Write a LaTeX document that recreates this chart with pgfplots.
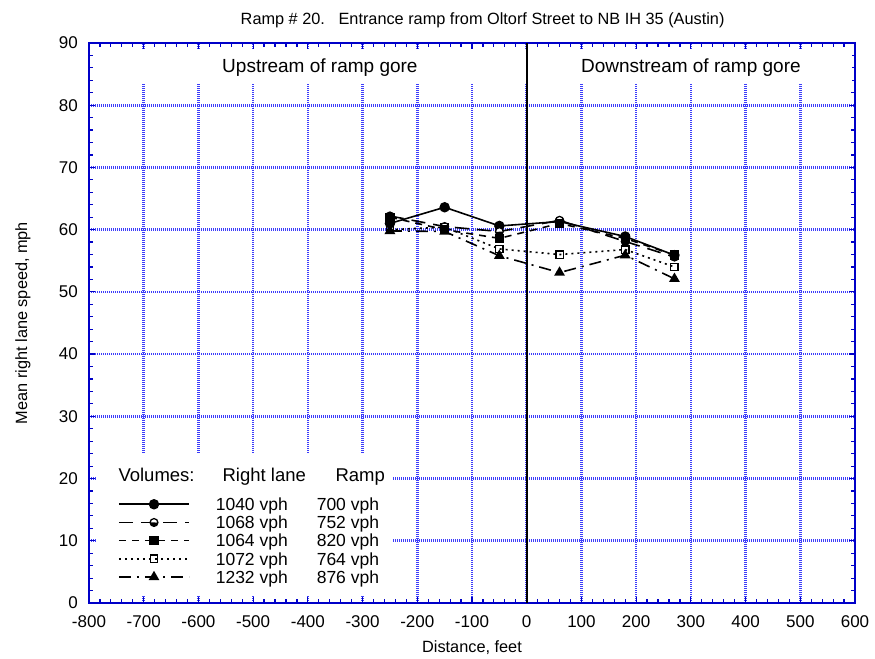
\documentclass[border=0pt]{standalone}
\usepackage{fontspec}
\setmainfont{Liberation Sans}
\usepackage{pgfplots}
\pgfplotsset{compat=1.18}
\usetikzlibrary{plotmarks}
\definecolor{axblue}{RGB}{0,0,200}
\definecolor{gridblue}{RGB}{60,60,250}
\newcommand{\fs}{\fontsize{16.3}{19}\selectfont}
\newcommand{\ft}{\fontsize{17}{20}\selectfont}
\newcommand{\fl}{\fontsize{17.5}{20}\selectfont}
\begin{document}
\begin{tikzpicture}
\begin{axis}[
  scale only axis, width=766pt, height=560pt,
  xmin=-800, xmax=600, ymin=0, ymax=90,
  xtick distance=100, ytick distance=10,
  minor x tick num=4, minor y tick num=4,
  tick align=inside, tick pos=both,
  major tick length=6pt, minor tick length=4pt,
  every tick/.style={axblue, line width=1.2pt},
  axis line style={axblue, line width=2.4pt},
  grid=major,
  major grid style={gridblue, line width=2.6pt, dash pattern=on 1.3pt off 0.7pt},
  /pgf/number format/assume math mode=true,
  /pgf/number format/1000 sep={},
  ticklabel style={font=\ft},
  xticklabel style={anchor=center, yshift=-19pt},
  yticklabel style={anchor=east, inner sep=0pt, xshift=-11pt},
  xlabel={Distance, feet},
  ylabel={Mean right lane speed, mph},
  every axis x label/.style={at={(axis description cs:0.5,0)}, anchor=center, yshift=-45pt, font=\fs},
  every axis y label/.style={at={(axis description cs:0,0.5)}, anchor=center, rotate=90, yshift=66pt, font=\fs},
  clip=false,
  legend image code/.code={\draw[mark repeat=2, mark phase=2, #1] plot coordinates {(0pt,0pt) (35pt,0pt) (70pt,0pt)};},
  legend style={at={(axis cs:-747,16.9)}, anchor=north west, draw=none, fill=none,
    inner sep=0pt, row sep=5.7pt, column sep=26pt, font=\fl,
    nodes={inner sep=0pt, text height=12.5pt, text depth=0pt}},
  legend cell align=left,
]
% white masks over the grid
\fill[white] (axis cs:-786,83.6) rectangle (axis cs:594,89.0);
\fill[white] (axis cs:-786,1.2) rectangle (axis cs:-244,24.1);
\draw[black, line width=1.6pt] (axis cs:0,0) -- (axis cs:0,90);

\addplot[black, line width=1.6pt, solid, mark=*, mark size=4.4pt, mark options={solid}]
  coordinates {(-250,61.0) (-150,63.6) (-50,60.6) (60,61.3) (180,58.9) (270,55.9)};
\addplot[black, line width=1.6pt, dash pattern=on 14pt off 8pt, mark=halfcircle*, mark size=3.9pt, mark options={solid, rotate=180, fill=black, line width=1.3pt}]
  coordinates {(-250,62.2) (-150,60.5) (-50,59.7) (60,61.5) (180,58.1) (270,55.6)};
\addplot[black, line width=1.6pt, dash pattern=on 7pt off 6pt, mark=square*, mark size=3.9pt, mark options={solid}]
  coordinates {(-250,62.0) (-150,60.0) (-50,58.6) (60,61.0) (180,58.6) (270,55.9)};
\addplot[black, line width=1.6pt, dash pattern=on 2pt off 4pt, mark=square, mark size=3.7pt, mark options={solid, line width=1.4pt, fill=white}]
  coordinates {(-250,60.0) (-150,60.4) (-50,56.9) (60,56.0) (180,56.8) (270,54.0)};
\addplot[black, line width=1.6pt, dash pattern=on 12pt off 6pt on 2pt off 6pt, mark=triangle*, mark size=4.7pt, mark options={solid}]
  coordinates {(-250,59.8) (-150,59.7) (-50,55.8) (60,53.1) (180,55.9) (270,52.1)};
\legend{\makebox[101pt][l]{1040 vph}700 vph,
        \makebox[101pt][l]{1068 vph}752 vph,
        \makebox[101pt][l]{1064 vph}820 vph,
        \makebox[101pt][l]{1072 vph}764 vph,
        \makebox[101pt][l]{1232 vph}876 vph}

\node[anchor=base west, font=\fontsize{18.5}{21}\selectfont] at (axis cs:-752.5,19.5) {Volumes:};
\node[anchor=base west, font=\fontsize{18.5}{21}\selectfont] at (axis cs:-562.3,19.5) {Right lane};
\node[anchor=base west, font=\fontsize{18.5}{21}\selectfont] at (axis cs:-355.8,19.5) {Ramp};
\node[anchor=center, font=\fontsize{19}{22}\selectfont] at (axis cs:-378,86.1) {Upstream of ramp gore};
\node[anchor=center, font=\fontsize{19}{22}\selectfont] at (axis cs:300,86.1) {Downstream of ramp gore};
\node[anchor=center, font=\fs] at (axis cs:-80.6,93.7) {Ramp \# 20.\ \ \ Entrance ramp from Oltorf Street to NB IH 35 (Austin)};
\end{axis}
\pgfresetboundingbox
\path ([shift={(-89pt,-56pt)}]current axis.south west) rectangle ([shift={(20pt,43pt)}]current axis.north east);
\end{tikzpicture}
\end{document}
